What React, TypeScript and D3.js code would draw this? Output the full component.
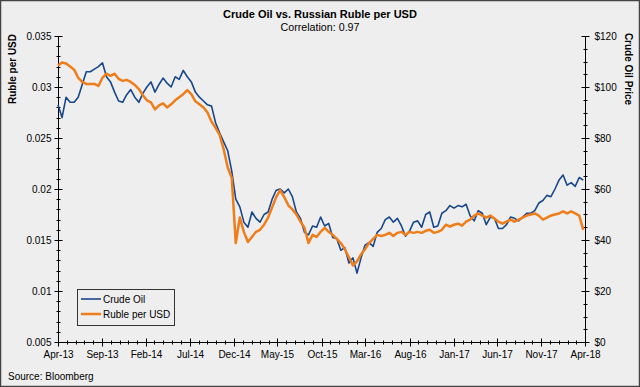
import React, { useEffect, useRef } from "react";
import * as d3 from "d3";

// biweekly closes, Apr-2013 .. Apr-2018
const oilPrice: number[] = [
  93, 88, 96, 94, 94, 96, 101, 106, 106, 107, 108, 109.5, 104, 102, 98, 94.5, 94, 97, 99, 96,
  94, 97.5, 100, 102, 98, 101, 103.5, 101.5, 100, 104, 103, 106.5, 104, 102, 98, 96, 94.5, 93, 92.5, 86,
  82, 78.5, 75, 67, 56, 53, 47, 45, 51, 48.5, 47, 50, 51, 56, 59.5, 60, 58.5, 60, 57, 51,
  48.5, 43, 42, 45.5, 45, 49, 45.5, 46.5, 41, 40.5, 36, 37, 31, 33, 27, 33, 38, 39, 37.5, 43,
  44.5, 48, 49, 47, 48.5, 45.5, 41.5, 43.5, 47, 47.5, 45, 50, 51, 45, 45.5, 50.5, 51.5, 53.5, 52.5, 53.5,
  53, 54, 49.5, 47.5, 51.5, 50.5, 46, 49, 48.5, 44.5, 44.5, 46, 49, 48.5, 47.5, 49, 50.5, 50.5, 51.5, 54.5,
  55.5, 57.5, 57, 60, 63.5, 65.5, 61.5, 62.5, 61, 64.5, 63.5,
];

const rublePerUsd: number[] = [
  0.0321, 0.0324, 0.0323, 0.032, 0.0317, 0.0309, 0.0305, 0.0303, 0.0303, 0.0303, 0.0301, 0.0309, 0.0313, 0.0311, 0.0313, 0.0308, 0.0306, 0.0307, 0.0305, 0.0302,
  0.0298, 0.0292, 0.0287, 0.0285, 0.0278, 0.0282, 0.0284, 0.028, 0.0283, 0.0287, 0.029, 0.0293, 0.0297, 0.0293, 0.0286, 0.0283, 0.028, 0.0275, 0.0266, 0.026,
  0.0253, 0.0239, 0.0221, 0.0211, 0.0147, 0.0172, 0.0158, 0.0148, 0.0153, 0.0158, 0.016, 0.0165, 0.0172, 0.0182, 0.0192, 0.0199, 0.0192, 0.0184, 0.018, 0.0175,
  0.0168, 0.0162, 0.0147, 0.0155, 0.0153, 0.0158, 0.0162, 0.0158, 0.0155, 0.0151, 0.0147, 0.0141, 0.0133, 0.0125, 0.0129, 0.0136, 0.0141, 0.0147, 0.0151, 0.0155,
  0.0154, 0.0155, 0.0157, 0.0154, 0.0157, 0.0158, 0.0155, 0.0158, 0.0157, 0.0158, 0.0157, 0.0159, 0.016, 0.0157, 0.0158, 0.016, 0.0165, 0.0163, 0.0165, 0.0166,
  0.0164, 0.0168, 0.017, 0.0174, 0.0176, 0.0174, 0.0172, 0.0174, 0.0171, 0.0168, 0.0166, 0.0168, 0.017, 0.0168, 0.017, 0.0172, 0.0174, 0.0175, 0.0176, 0.0174,
  0.017, 0.0172, 0.0174, 0.0175, 0.0176, 0.0178, 0.0176, 0.0178, 0.0176, 0.0174, 0.016,
];

const leftTicks = [0.005, 0.01, 0.015, 0.02, 0.025, 0.03, 0.035];
const rightTicks = [0, 20, 40, 60, 80, 100, 120];
const seriesNames = ["Crude Oil", "Ruble per USD"];

const W = 640;
const H = 387;
const margin = { top: 36, right: 55, bottom: 45, left: 58 };
const BLUE = "#17478a";
const ORANGE = "#ee7d1a";
const FONT = "Liberation Sans, Arial, sans-serif";

export default function App() {
  const ref = useRef<SVGSVGElement | null>(null);

  useEffect(() => {
    const svg = d3.select(ref.current);
    svg.selectAll("*").remove();

    const start = new Date(2013, 3, 11);
    const end = new Date(2018, 3, 11);
    const dates = oilPrice.map((_, i) => d3.timeDay.offset(start, i * 14));

    const x = d3.scaleTime().domain([start, end]).range([margin.left, W - margin.right]);
    const yL = d3.scaleLinear().domain([0.005, 0.035]).range([H - margin.bottom, margin.top]);
    const yR = d3.scaleLinear().domain([0, 120]).range([H - margin.bottom, margin.top]);

    svg.append("rect").attr("x", 0).attr("y", 0).attr("width", W).attr("height", H).attr("fill", "#eeeeee");
    svg.append("rect").attr("x", 0.5).attr("y", 0.5).attr("width", W - 1).attr("height", H - 1)
      .attr("fill", "none").attr("stroke", "#444").attr("stroke-width", 1.5);

    // titles
    svg.append("text").attr("x", 320).attr("y", 18).attr("text-anchor", "middle")
      .attr("font-family", FONT).attr("font-size", 11).attr("font-weight", "bold").attr("fill", "#000")
      .text("Crude Oil vs. Russian Ruble per USD");
    svg.append("text").attr("x", 320).attr("y", 31).attr("text-anchor", "middle")
      .attr("font-family", FONT).attr("font-size", 10.7).attr("fill", "#000")
      .text("Correlation: 0.97");

    svg.append("text").attr("transform", "translate(16,69) rotate(-90)").attr("text-anchor", "middle")
      .attr("font-family", FONT).attr("font-size", 10).attr("font-weight", "bold").text("Ruble per USD");
    svg.append("text").attr("transform", "translate(625,69) rotate(90)").attr("text-anchor", "middle")
      .attr("font-family", FONT).attr("font-size", 10).attr("font-weight", "bold").text("Crude Oil Price");

    const axisG = svg.append("g").attr("stroke", "#000").attr("stroke-width", 1);
    const x0 = margin.left + 0.5;
    const x1 = W - margin.right + 0.5;
    const yb = H - margin.bottom + 0.5;

    // axis lines
    axisG.append("line").attr("x1", x0).attr("x2", x0).attr("y1", margin.top).attr("y2", yb);
    axisG.append("line").attr("x1", x1).attr("x2", x1).attr("y1", margin.top).attr("y2", yb);
    axisG.append("line").attr("x1", x0).attr("x2", x1).attr("y1", yb).attr("y2", yb);

    // left ticks
    const lMinor = d3.range(5, 36).map((v) => v / 1000);
    lMinor.forEach((v) => {
      const yy = Math.round(yL(v)) + 0.5;
      axisG.append("line").attr("x1", x0 - 2).attr("x2", x0 + 2).attr("y1", yy).attr("y2", yy);
    });
    leftTicks.forEach((v) => {
      const yy = Math.round(yL(v)) + 0.5;
      axisG.append("line").attr("x1", x0 - 4).attr("x2", x0 + 4).attr("y1", yy).attr("y2", yy);
      svg.append("text").attr("x", x0 - 7).attr("y", yy + 3.5).attr("text-anchor", "end")
        .attr("font-family", FONT).attr("font-size", 10).text(d3.format(".3~f")(v));
    });

    // right ticks
    d3.range(0, 121, 5).forEach((v) => {
      const yy = Math.round(yR(v)) + 0.5;
      axisG.append("line").attr("x1", x1 - 2).attr("x2", x1 + 2).attr("y1", yy).attr("y2", yy);
    });
    rightTicks.forEach((v) => {
      const yy = Math.round(yR(v)) + 0.5;
      axisG.append("line").attr("x1", x1 - 4).attr("x2", x1 + 4).attr("y1", yy).attr("y2", yy);
      svg.append("text").attr("x", x1 + 9).attr("y", yy + 3.5).attr("text-anchor", "start")
        .attr("font-family", FONT).attr("font-size", 10).text("$" + v);
    });

    // bottom ticks
    d3.range(0, 61).forEach((m) => {
      const xx = Math.round(x(d3.timeMonth.offset(start, m))) + 0.5;
      const major = m % 5 === 0;
      axisG.append("line").attr("x1", xx).attr("x2", xx)
        .attr("y1", yb - (major ? 4 : 2)).attr("y2", yb + (major ? 4 : 2));
      if (major) {
        svg.append("text").attr("x", xx).attr("y", yb + 15).attr("text-anchor", "middle")
          .attr("font-family", FONT).attr("font-size", 10)
          .text(d3.timeFormat("%b-%y")(d3.timeMonth.offset(start, m)));
      }
    });

    // series
    const oilLine = d3.line<number>().x((_, i) => x(dates[i])).y((d) => yR(d));
    const rubLine = d3.line<number>().x((_, i) => x(dates[i])).y((d) => yL(d));

    svg.append("path").datum(oilPrice).attr("d", oilLine).attr("fill", "none")
      .attr("stroke", BLUE).attr("stroke-width", 1.6).attr("stroke-linejoin", "round");
    svg.append("path").datum(rublePerUsd).attr("d", rubLine).attr("fill", "none")
      .attr("stroke", ORANGE).attr("stroke-width", 2.5).attr("stroke-linejoin", "round");

    // legend
    const lg = svg.append("g").attr("transform", "translate(77,289)");
    lg.append("rect").attr("x", 0.5).attr("y", 0.5).attr("width", 97).attr("height", 36)
      .attr("fill", "#eeeeee").attr("stroke", "#333").attr("stroke-width", 1);
    seriesNames.forEach((name, i) => {
      const yy = 10 + i * 15;
      lg.append("line").attr("x1", 4).attr("x2", 24).attr("y1", yy).attr("y2", yy)
        .attr("stroke", i === 0 ? BLUE : ORANGE).attr("stroke-width", i === 0 ? 1.6 : 2.5);
      lg.append("text").attr("x", 26).attr("y", yy + 3.5).attr("font-family", FONT)
        .attr("font-size", 10).text(name);
    });

    svg.append("text").attr("x", 8).attr("y", 380).attr("font-family", FONT)
      .attr("font-size", 10).text("Source: Bloomberg");
  }, []);

  return (
    <svg
      ref={ref}
      width={W}
      height={H}
      style={{ position: "absolute", left: 0, top: 0, display: "block" }}
    />
  );
}
